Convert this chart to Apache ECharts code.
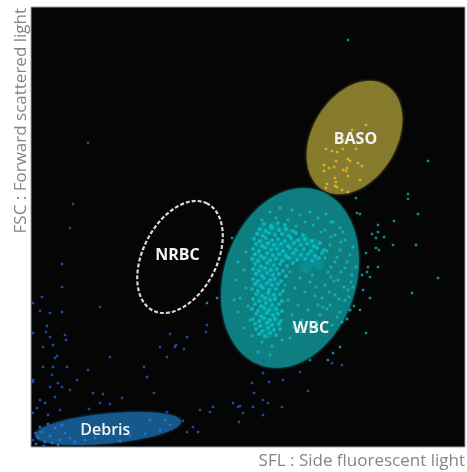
<!DOCTYPE html>
<html>
<head>
<meta charset="utf-8">
<script src="https://cdn.jsdelivr.net/npm/echarts@6/dist/echarts.min.js"></script>
<style>
  html, body { margin: 0; padding: 0; background: #ffffff; }
  #chart { width: 467px; height: 472px; }
</style>
</head>
<body>
<div id="chart"></div>
<script>
// Channel ranges of the scattergram (SFL horizontally, FSC vertically)
const sflRange = [0, 434];
const fscRange = [0, 440];

// Gated cell regions: centre, semi-axes (major/minor) and tilt of the major axis
const regionNames   = ['BASO', 'WBC', 'NRBC', 'Debris'];
const regionCenterX = [323.5, 259, 149, 77];
const regionCenterY = [309.5, 169, 190, 18.5];
const regionMajor   = [61, 92, 60, 73.3];
const regionMinor   = [42, 66, 37, 15];
const regionAngle   = [59, 72, 63, 5.5];
const regionLabelX  = [324.5, 280, 146.5, 74.3];
const regionLabelY  = [307.5, 119, 191.5, 17];

// Glow of the dense white-cell population
const wbcCore = [
  [231,202],[241,202],[227,189],[239,189],[251,191],[228,176],[240,176],[229,163],[240,163],
  [231,150],[241,150],[232,137],[242,137],[233,125],[242,125],[236,114],[231,215],[243,219],
  [255,215],[251,203],[263,203],[273,207],[283,203],[269,192],[281,191],[275,180],[287,183],[259,192]
];

// Dense white-cell events (lymphocyte stem and monocyte/neutrophil bar)
const wbcDense = [
  [228,113],[234,111],[239,114],[245,112],
  [225,118],[231,116],[237,119],[243,117],[249,118],
  [224,123],[229,121],[236,124],[241,122],[248,123],
  [222,128],[228,126],[233,129],[239,127],[244,128],[250,126],
  [225,133],[230,131],[236,134],[242,132],[247,133],
  [221,138],[227,136],[233,139],[238,137],[245,138],[251,136],
  [224,143],[230,141],[235,144],[241,142],[248,143],
  [222,148],[228,146],[234,149],[239,147],[244,148],[251,146],
  [225,153],[231,151],[237,154],[243,152],[249,153],
  [221,158],[227,156],[232,159],[238,157],[245,158],[252,156],
  [224,163],[230,161],[236,164],[241,162],[247,163],
  [222,168],[227,166],[233,169],[239,167],[244,168],[250,166],
  [225,173],[231,171],[236,174],[242,172],[248,173],[255,171],
  [222,178],[228,176],[234,179],[240,177],[246,178],[252,176],
  [224,183],[230,181],[236,184],[243,182],[249,183],[256,181],[262,184],
  [221,188],[227,186],[233,189],[239,187],[245,188],[251,186],[258,189],[266,187],[274,188],[281,186],[288,189],
  [224,193],[230,191],[236,194],[242,192],[248,193],[255,191],[262,194],[270,192],[277,193],[284,191],[291,194],
  [222,198],[228,196],[234,199],[240,197],[246,198],[252,196],[259,199],[265,197],[273,198],[280,196],[286,199],[293,197],
  [225,203],[231,201],[237,204],[243,202],[250,203],[257,201],[263,204],[270,202],[276,203],[283,201],[289,204],
  [223,208],[229,206],[235,209],[241,207],[247,208],[254,206],[260,209],[267,207],[274,208],[281,206],
  [226,213],[232,211],[238,214],[244,212],[251,213],[258,211],[265,214],[272,212],
  [229,218],[235,216],[241,219],[248,217],[255,218],[262,216],
  [233,223],[240,221],[247,224],[254,222]
];

// Scattered white-cell events inside the gate
const wbcEvents = [
  [239,235],[249,239],[261,237],[269,232],[279,235],[287,229],[295,233],[302,225],[257,227],[231,227],
  [245,229],[274,225],[309,219],[265,221],
  [294,217],[304,212],[314,207],[299,202],[309,197],[319,192],[294,189],[304,185],[314,179],[321,172],
  [297,175],[307,167],[317,157],[294,162],[304,152],[314,147],[299,142],[309,135],[291,149],[319,137],
  [311,125],[289,132],[301,122],
  [259,175],[269,169],[279,165],[264,159],[274,155],[284,151],[257,147],[267,142],[277,137],[287,142],
  [261,132],[271,127],[254,162],[281,172],
  [207,185],[213,177],[205,167],[215,159],[209,149],[217,141],[207,135],[219,127],[213,119],[221,111],
  [215,195],[203,147],
  [231,105],[241,101],[251,107],[227,95],[239,92],[259,109],
  [300,210],[310,205],[296,196],[306,190],[316,185],[300,180],[310,175],[320,165],[303,166],[313,160],
  [298,155],[308,148],[318,150],[296,138],[306,130],[316,128],[286,125],[280,118],[270,115],[262,120],
  [290,215],[300,225],[282,222],[312,215],[322,200],[325,180],[322,160],[300,170],[285,160],[292,140]
];

// White-cell events falling outside the gate
const wbcOutliers = [
  [397,286],[377,253],[377,248],[387,233],[363,226],[353,210],[362,202],[385,202],[407,169],[381,154],
  [341,213],[345,209],[345,199],[348,197],[347,215],[329,233],[326,234],[335,194],[337,180],[336,175],
  [339,170],[331,172],[332,157],[339,149],[329,137],[323,141],[335,114],[347,180],[347,222],[317,407],
  [302,94],[297,87],[279,87],[309,100],[201,209],[186,149],[176,144],[325,249]
];

// Basophil events
const basoEvents = [
  [321,317],[335,322],[295,298],[301,296],[312,298],[325,298],[305,286],[317,288],[319,286],[327,284],
  [331,281],[293,282],[298,279],[303,280],[312,277],[316,279],[293,276],[304,269],[305,265],[317,271],
  [329,267],[296,263],[304,261],[295,259],[311,257],[312,307],[306,295],[306,260],[315,276],[317,255]
];

// Debris and low-signal events
const debrisEvents = [
  [31,183],[31,160],[2,144],[9,136],[11,150],[19,134],[31,135],[69,140],[16,121],[15,115],
  [34,112],[35,107],[22,102],[26,91],[24,89],[36,80],[12,80],[57,77],[2,65],[21,72],
  [31,60],[19,60],[39,57],[24,50],[14,44],[6,39],[29,37],[17,32],[72,53],[79,43],
  [58,38],[91,49],[113,80],[123,54],[145,102],[153,98],[136,90],[176,122],[175,115],[139,113],
  [182,40],[169,37],[152,26],[162,20],[167,15],[156,15],[207,40],[212,34],[208,25],[221,64],
  [223,54],[9,47],[136,35],[179,35],[209,41],[222,40],[232,32],[237,44],[251,40],[277,56],
  [2,114],[2,67],[2,34],[4,14],[2,7],[39,219],[42,243],[57,304],[12,100],[19,110],
  [22,80],[27,64],[46,67],[62,54],[79,90],[69,44],[116,70],[129,100],[144,100],[156,110],
  [202,44],[232,47],[238,65],[242,80],[252,67],[232,87],[232,74],[269,75],[301,84],[311,82]
];

// Events inside the debris gate
const debrisCore = [
  [7,9],[11,15],[14,5],[19,11],[24,19],[29,7],[34,14],[39,9],[17,23],[27,2],
  [44,5],[54,7],[64,9],[89,6],[99,11],[114,13],[129,17],[139,22],[5,3],[13,1],
  [21,4],[9,20],[31,22],[119,27],[134,27]
];

const regionStyle = {
  BASO:   { fill: '#867a2c', stroke: null },
  WBC:    { fill: '#0e7e80', stroke: null },
  NRBC:   { fill: 'rgba(0,0,0,0)', stroke: '#d9d9d9' },
  Debris: { fill: '#16588b', stroke: null }
};

const regionData = regionNames.map((name, i) => ({
  name: name,
  value: [regionCenterX[i], regionCenterY[i], regionMajor[i], regionMinor[i],
          regionAngle[i], regionLabelX[i], regionLabelY[i]]
}));

// Each gate is an ellipse traced in data space, then mapped through the axes
function renderRegion(params, api) {
  const name = regionNames[params.dataIndex];
  const cx = api.value(0), cy = api.value(1);
  const a = api.value(2), b = api.value(3);
  const ang = api.value(4) * Math.PI / 180;
  const c = api.coord([cx, cy]);
  const unit = api.size([1, 1]);
  const pts = [];
  for (let k = 0; k < 120; k++) {
    const t = k / 120 * Math.PI * 2;
    const u = a * Math.cos(t), v = b * Math.sin(t);
    const dx = u * Math.cos(ang) - v * Math.sin(ang);
    const dy = u * Math.sin(ang) + v * Math.cos(ang);
    pts.push([c[0] + dx * unit[0], c[1] - dy * unit[1]]);
  }
  const st = regionStyle[name];
  const shape = st.stroke
    ? { type: 'polygon', shape: { points: pts },
        style: { fill: null, stroke: st.stroke, lineWidth: 2.2, lineDash: [4, 2] } }
    : { type: 'polygon', shape: { points: pts },
        style: { fill: st.fill, shadowBlur: 3, shadowColor: st.fill } };
  const lp = api.coord([api.value(5), api.value(6)]);
  const label = {
    type: 'text', x: lp[0], y: lp[1], z2: 10,
    style: {
      text: name, fill: '#f4f4f4', align: 'center', verticalAlign: 'middle',
      font: (name === 'Debris' ? '600 ' : 'bold ') + '16px "Open Sans", sans-serif'
    }
  };
  return { type: 'group', children: [shape, label] };
}

const chart = echarts.init(document.getElementById('chart'), null, { renderer: 'canvas' });
chart.setOption({
  animation: false,
  backgroundColor: '#ffffff',
  grid: {
    left: 31, top: 7, width: 434, height: 440,
    show: true, backgroundColor: '#050505', borderColor: '#a0a0a0', borderWidth: 1
  },
  xAxis: {
    type: 'value', min: sflRange[0], max: sflRange[1],
    axisLine: { show: false }, axisTick: { show: false }, axisLabel: { show: false }, splitLine: { show: false }
  },
  yAxis: {
    type: 'value', min: fscRange[0], max: fscRange[1],
    axisLine: { show: false }, axisTick: { show: false }, axisLabel: { show: false }, splitLine: { show: false }
  },
  graphic: [
    {
      type: 'text', x: 465, y: 461,
      style: { text: 'SFL : Side fluorescent light', fill: '#858585', align: 'right',
               verticalAlign: 'middle', font: '17px "Open Sans", sans-serif' }
    },
    {
      type: 'text', x: 21, y: 8, rotation: Math.PI / 2,
      style: { text: 'FSC : Forward scattered light', fill: '#858585', align: 'right',
               verticalAlign: 'middle', font: '17px "Open Sans", sans-serif' }
    }
  ],
  series: [
    { type: 'custom', name: 'regions', renderItem: renderRegion, data: regionData, z: 1, silent: true },
    { type: 'scatter', name: 'Debris events', data: debrisEvents, symbol: 'rect', symbolSize: 2.5,
      itemStyle: { color: '#2459c9' }, z: 3, silent: true },
    { type: 'scatter', name: 'Debris core', data: debrisCore, symbol: 'rect', symbolSize: 2.5,
      itemStyle: { color: '#2f7be0' }, z: 3, silent: true },
    { type: 'scatter', name: 'WBC glow', data: wbcCore, symbol: 'circle', symbolSize: 12,
      itemStyle: { color: 'rgba(0,190,200,0.28)', shadowBlur: 8, shadowColor: 'rgba(0,190,200,0.5)' },
      z: 3, silent: true },
    { type: 'scatter', name: 'WBC dense', data: wbcDense, symbol: 'rect', symbolSize: 3.4,
      itemStyle: { color: '#0cc4cc' }, z: 4, silent: true },
    { type: 'scatter', name: 'WBC events', data: wbcEvents, symbol: 'rect', symbolSize: 2.8,
      itemStyle: { color: '#12bcc4' }, z: 4, silent: true },
    { type: 'scatter', name: 'WBC outliers', data: wbcOutliers, symbol: 'rect', symbolSize: 2.5,
      itemStyle: { color: '#13aab2' }, z: 4, silent: true },
    { type: 'scatter', name: 'BASO events', data: basoEvents, symbol: 'rect', symbolSize: 2.5,
      itemStyle: { color: '#f0c020' }, z: 4, silent: true }
  ]
});
</script>
</body>
</html>
